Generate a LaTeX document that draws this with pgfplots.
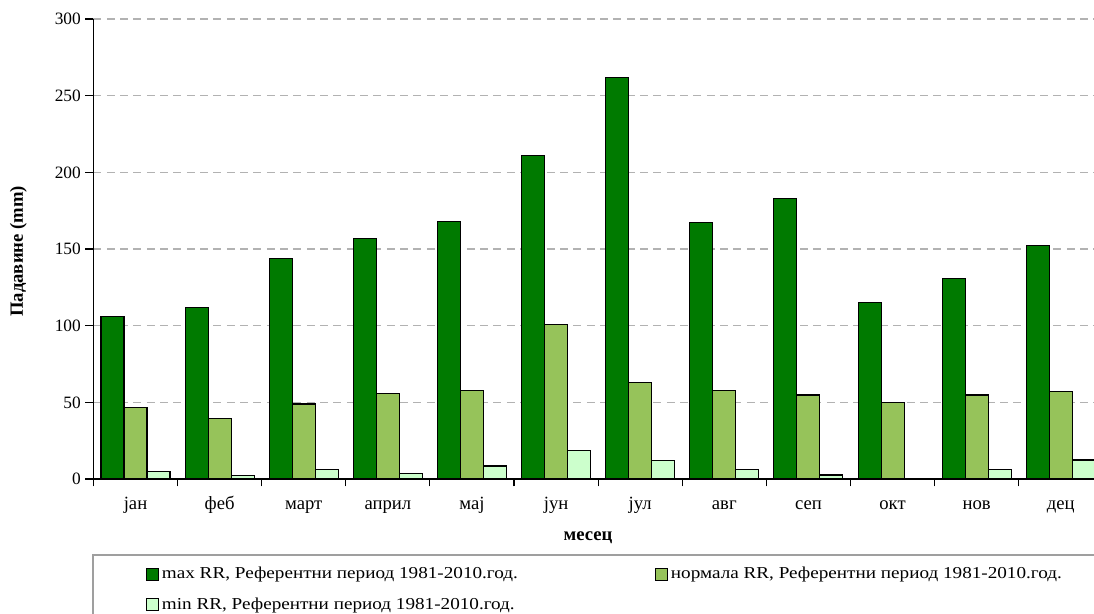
\documentclass[border=0pt]{standalone}
\usepackage{fontspec}
\setmainfont{Liberation Serif}
\newfontfamily\legfont{Liberation Serif}[FakeStretch=1.15]
\usepackage{pgfplots}
\pgfplotsset{compat=1.18}
\definecolor{cmax}{RGB}{0,122,0}
\definecolor{cnorm}{RGB}{150,195,90}
\definecolor{cmin}{RGB}{204,255,204}
\begin{document}
\begin{tikzpicture}
\useasboundingbox (0,0) rectangle (820.5pt,459.75pt);
\clip (0,0) rectangle (820.5pt,459.75pt);
\pgfplotsset{leg/.style={legend image code/.code={\draw[##1,line width=0.8pt] (0pt,-4.6pt) rectangle (9pt,4.6pt);}}}
\begin{axis}[
  at={(70.1pt,100.5pt)}, anchor=south west,
  scale only axis, width=757pt, height=345pt,
  xmin=-0.5, xmax=11.5, ymin=0, ymax=300,
  ytick={0,50,...,300},
  xtick={0,...,11},
  xticklabels={јан,феб,март,април,мај,јун,јул,авг,сеп,окт,нов,дец},
  minor xtick={-0.5,0.5,...,11.5},
  major x tick style={draw=none},
  minor x tick style={black, line width=0.8pt},
  minor tick length=5.5pt,
  major tick length=6pt,
  tick align=outside,
  axis x line*=bottom, axis y line*=left,
  axis line style={-, line width=0.9pt},
  ytick style={black, line width=0.8pt},
  ymajorgrids,
  grid style={dash pattern=on 6pt off 4pt, gray!60, line width=0.8pt},
  /pgf/number format/assume math mode=true,
  yticklabel style={font=\fontsize{13pt}{15pt}\selectfont},
  xticklabel style={font=\fontsize{14pt}{16pt}\selectfont, anchor=base, yshift=-16.5pt},
  ylabel={\textbf{Падавине (mm)}},
  xlabel={\textbf{месец}},
  label style={font=\fontsize{14pt}{16pt}\selectfont},
  ylabel style={at={(axis description cs:-0.0743,0.495)}, anchor=center},
  xlabel style={at={(axis description cs:0.49,-0.128)}, anchor=center},
  ybar=0pt, bar width=17.25pt,
  legend columns=2,
  legend style={at={(axis description cs:0.048,-0.18)}, anchor=north west, draw=none, fill=none,
    font=\legfont\fontsize{12.5pt}{14pt}\selectfont, cells={anchor=west},
    /tikz/every even column/.append style={column sep=0pt},
    row sep=8.5pt},
]
\addplot[fill=cmax, draw=black, line width=0.8pt, leg] coordinates {
(0,106) (1,112) (2,144) (3,157) (4,168) (5,211) (6,262) (7,167) (8,183) (9,115) (10,131) (11,152)};
\addlegendentry{\makebox[368pt][l]{max RR, Референтни период 1981-2010.год.}}
\addplot[fill=cnorm, draw=black, line width=0.8pt, leg] coordinates {
(0,46.5) (1,39.6) (2,48.9) (3,55.9) (4,57.6) (5,101) (6,63) (7,57.6) (8,54.8) (9,49.8) (10,54.8) (11,57)};
\addlegendentry{нормала RR, Референтни период 1981-2010.год.}
\addplot[fill=cmin, draw=black, line width=0.8pt, leg] coordinates {
(0,4.6) (1,2.2) (2,6.5) (3,3.5) (4,8.5) (5,18.7) (6,12.2) (7,6.3) (8,2.6) (9,0.4) (10,6.5) (11,12.4)};
\addlegendentry{min RR, Референтни период 1981-2010.год.}
\end{axis}
\draw[gray!75, line width=1.4pt] (69.5pt,43.5pt) rectangle (840pt,-20pt);
\end{tikzpicture}
\end{document}
